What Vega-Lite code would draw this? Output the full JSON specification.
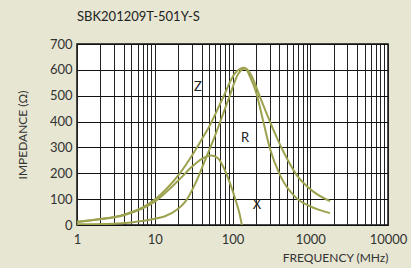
{
  "$schema": "https://vega.github.io/schema/vega-lite/v6.json",
  "width": 311,
  "height": 181,
  "autosize": {"type": "none"},
  "padding": {"left": 77, "top": 44, "right": 23, "bottom": 43},
  "background": "#E6E6D2",
  "config": {
    "view": {"fill": "white", "stroke": "#111", "strokeWidth": 1.5},
    "font": "Lato"
  },
  "title": {
    "text": "SBK201209T-501Y-S",
    "anchor": "start",
    "frame": "group",
    "fontSize": 13,
    "fontWeight": "normal",
    "color": "#222",
    "offset": 14
  },
  "datasets": {
    "curves": [
      {"curve": "Z", "f": 1, "v": 13},
      {"curve": "Z", "f": 2, "v": 23},
      {"curve": "Z", "f": 4, "v": 40},
      {"curve": "Z", "f": 7, "v": 68},
      {"curve": "Z", "f": 10, "v": 98},
      {"curve": "Z", "f": 15, "v": 148},
      {"curve": "Z", "f": 21, "v": 200},
      {"curve": "Z", "f": 30, "v": 268},
      {"curve": "Z", "f": 40, "v": 330},
      {"curve": "Z", "f": 50, "v": 380},
      {"curve": "Z", "f": 73, "v": 483},
      {"curve": "Z", "f": 108, "v": 587},
      {"curve": "Z", "f": 142, "v": 608},
      {"curve": "Z", "f": 170, "v": 585},
      {"curve": "Z", "f": 226, "v": 495},
      {"curve": "Z", "f": 303, "v": 400},
      {"curve": "Z", "f": 451, "v": 284},
      {"curve": "Z", "f": 670, "v": 193},
      {"curve": "Z", "f": 1096, "v": 129},
      {"curve": "Z", "f": 1800, "v": 92},
      {"curve": "X", "f": 1, "v": 12},
      {"curve": "X", "f": 2, "v": 22},
      {"curve": "X", "f": 4, "v": 38},
      {"curve": "X", "f": 7, "v": 64},
      {"curve": "X", "f": 10, "v": 90},
      {"curve": "X", "f": 15, "v": 135},
      {"curve": "X", "f": 21, "v": 178},
      {"curve": "X", "f": 30, "v": 225},
      {"curve": "X", "f": 40, "v": 255},
      {"curve": "X", "f": 54, "v": 269},
      {"curve": "X", "f": 65, "v": 258},
      {"curve": "X", "f": 76, "v": 225},
      {"curve": "X", "f": 93, "v": 161},
      {"curve": "X", "f": 110, "v": 95},
      {"curve": "X", "f": 124, "v": 40},
      {"curve": "X", "f": 132, "v": 0},
      {"curve": "R", "f": 1, "v": 3},
      {"curve": "R", "f": 3, "v": 5},
      {"curve": "R", "f": 5, "v": 10},
      {"curve": "R", "f": 10, "v": 24},
      {"curve": "R", "f": 13.5, "v": 34},
      {"curve": "R", "f": 20, "v": 63},
      {"curve": "R", "f": 25, "v": 92},
      {"curve": "R", "f": 33, "v": 158},
      {"curve": "R", "f": 45, "v": 255},
      {"curve": "R", "f": 57, "v": 330},
      {"curve": "R", "f": 88, "v": 483},
      {"curve": "R", "f": 119, "v": 585},
      {"curve": "R", "f": 145, "v": 605},
      {"curve": "R", "f": 170, "v": 570},
      {"curve": "R", "f": 205, "v": 505},
      {"curve": "R", "f": 249, "v": 400},
      {"curve": "R", "f": 303, "v": 296},
      {"curve": "R", "f": 408, "v": 193},
      {"curve": "R", "f": 670, "v": 103},
      {"curve": "R", "f": 1000, "v": 72},
      {"curve": "R", "f": 1800, "v": 46}
    ],
    "labels": [
      {"label": "Z", "f": 36, "v": 534},
      {"label": "R", "f": 145, "v": 336},
      {"label": "X", "f": 207, "v": 77}
    ]
  },
  "encoding": {
    "x": {
      "field": "f",
      "type": "quantitative",
      "scale": {"type": "log", "domain": [1, 10000]},
      "axis": {
        "values": [1,2,3,4,5,6,7,8,9,10,20,30,40,50,60,70,80,90,100,200,300,400,500,600,700,800,900,1000,2000,3000,4000,5000,6000,7000,8000,9000,10000],
        "labelExpr": "(datum.value==1||datum.value==10||datum.value==100||datum.value==1000||datum.value==10000) ? format(datum.value,'d') : ''",
        "grid": true,
        "gridColor": "#222",
        "gridOpacity": 1,
        "gridWidth": 1,
        "ticks": false,
        "domain": false,
        "labelFontSize": 13,
        "labelColor": "#333",
        "labelPadding": 8,
        "labelOverlap": false,
        "labelFlush": false,
        "title": "FREQUENCY (MHz)",
        "titleFontSize": 12,
        "titleFontWeight": "normal",
        "titleColor": "#333",
        "titleAnchor": "end",
        "titlePadding": 6
      }
    },
    "y": {
      "field": "v",
      "type": "quantitative",
      "scale": {"domain": [0, 700], "nice": false},
      "axis": {
        "values": [0,100,200,300,400,500,600,700],
        "tickCount": 8,
        "format": "d",
        "grid": true,
        "gridColor": "#111",
        "gridOpacity": 1,
        "ticks": false,
        "domain": false,
        "labelFontSize": 13,
        "labelColor": "#333",
        "labelPadding": 5,
        "labelOverlap": false,
        "labelFlush": false,
        "labelBound": false,
        "title": "IMPEDANCE (Ω)",
        "titleFontSize": 12,
        "titleFontWeight": "normal",
        "titleColor": "#333",
        "titlePadding": 20
      }
    }
  },
  "layer": [
    {
      "data": {"name": "curves"},
      "mark": {"type": "line", "color": "#9DA24E", "strokeWidth": 2, "interpolate": "monotone", "clip": true},
      "encoding": {
        "detail": {"field": "curve"}
      }
    },
    {
      "data": {"name": "labels"},
      "mark": {"type": "text", "fontSize": 13, "color": "#222"},
      "encoding": {
        "text": {"field": "label"}
      }
    }
  ]
}
